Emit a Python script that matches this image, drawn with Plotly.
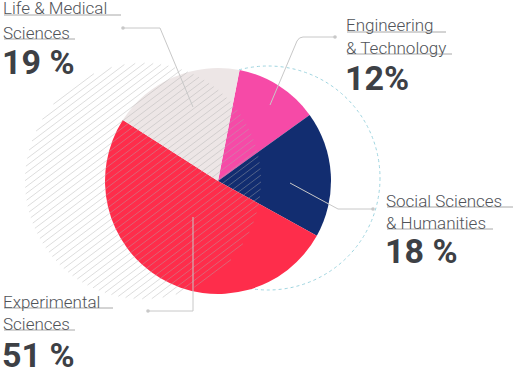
import math
import plotly.graph_objects as go

# ---- data ----
categories = ["Engineering & Technology", "Social Sciences & Humanities",
              "Experimental Sciences", "Life & Medical Sciences"]
values = [12, 18, 51, 19]
label_line1 = ["Engineering", "Social Sciences", "Experimental", "Life & Medical"]
label_line2 = ["& Technology", "& Humanities", "Sciences", "Sciences"]
pct_text = ["12%", "18 %", "51 %", "19 %"]
colors = ["#f64aa7", "#122d70", "#fe2d4b", "#ede6e6"]

W, H = 515, 377

fig = go.Figure()

# hidden pixel-space axes for decorations
fig.add_trace(go.Scatter(x=[0, W], y=[0, H], mode="markers",
                         marker=dict(opacity=0), hoverinfo="skip", showlegend=False))

# pie
cx, cy, r = 218, 181, 113
fig.add_trace(go.Pie(
    labels=categories, values=values, sort=False, direction="clockwise",
    rotation=11, marker=dict(colors=colors, line=dict(width=0)),
    textinfo="none", hoverinfo="label+percent", showlegend=False,
    domain=dict(x=[(cx - r) / W, (cx + r) / W], y=[1 - (cy + r) / H, 1 - (cy - r) / H]),
))

shapes = []

# dotted circle (behind pie)
dcx, dcy, dr = 268, 178, 112
shapes.append(dict(type="circle", xref="x", yref="y", layer="below",
                   x0=dcx - dr, x1=dcx + dr, y0=dcy - dr, y1=dcy + dr,
                   line=dict(color="#9fd5e0", width=1, dash="dot")))

# hatched circle (above pie)
hcx, hcy, hr = 143, 181, 118
ang = math.radians(37)
dx, dy = math.cos(ang), -math.sin(ang)
nx, ny = math.sin(ang), math.cos(ang)
spacing = 5.5
segs = []
t = -hr + spacing / 2
while t < hr:
    half = math.sqrt(max(hr * hr - t * t, 0))
    px, py = hcx + t * nx, hcy + t * ny
    segs.append(f"M{px - half * dx:.1f},{py - half * dy:.1f}L{px + half * dx:.1f},{py + half * dy:.1f}")
    t += spacing
shapes.append(dict(type="path", xref="x", yref="y", layer="above", path="".join(segs),
                   line=dict(color="rgba(175,175,175,0.42)", width=1)))

# leader lines
lead_col = "#c8c8c8"
leaders = [
    "M270,105L297,41Q299,37 303,37L335,37",      # Engineering
    "M290,183L338,209L373,209",                  # Social
    "M193,217L193,311L148,311",                  # Experimental
    "M193,107L160,28L123,28",                    # Life
]
for p in leaders:
    shapes.append(dict(type="path", xref="x", yref="y", layer="above", path=p,
                       line=dict(color=lead_col, width=1)))
for (ex, ey) in [(335, 37), (373, 209), (148, 311), (123, 28)]:
    shapes.append(dict(type="circle", xref="x", yref="y", layer="above",
                       x0=ex - 1.8, x1=ex + 1.8, y0=ey - 1.8, y1=ey + 1.8,
                       fillcolor="#c8c8c8", line=dict(width=0)))

# labels: (x, underline1 y, underline1 end, underline2 y, underline2 end, pct baseline)
label_pos = [
    (347, 32, 446, 54, 452, 90),
    (387, 207, 513, 229, 493, 263),
    (4, 308, 113, 330, 75, 367),
    (4, 15, 121, 39, 75, 74),
]
annotations = []
txt_font = dict(family="Roboto Light, Roboto", size=17, color="#505358", weight=300)
num_font = dict(family="Roboto", size=34, color="#3d4045", weight=700)
for i in range(len(categories)):
    x, u1, e1, u2, e2, base = label_pos[i]
    for txt, uy, ue in [(label_line1[i], u1, e1), (label_line2[i], u2, e2)]:
        annotations.append(dict(x=x - 2, y=uy + 4.5, xref="x", yref="y", text=txt,
                                showarrow=False, xanchor="left", yanchor="bottom",
                                font=txt_font, borderpad=0))
        shapes.append(dict(type="line", xref="x", yref="y", layer="above",
                           x0=x, x1=ue, y0=uy, y1=uy,
                           line=dict(color="#a8a8a8", width=1)))
    annotations.append(dict(x=x - 3, y=base + 9, xref="x", yref="y", text=pct_text[i],
                            showarrow=False, xanchor="left", yanchor="bottom",
                            font=num_font, borderpad=0))

fig.update_layout(
    width=W, height=H, margin=dict(l=0, r=0, t=0, b=0),
    paper_bgcolor="white", plot_bgcolor="white",
    xaxis=dict(range=[0, W], visible=False, fixedrange=True),
    yaxis=dict(range=[H, 0], visible=False, fixedrange=True),
    shapes=shapes, annotations=annotations, showlegend=False,
)

fig.write_html("out.html", config={"displayModeBar": False},
               post_script="document.body.style.margin='0';document.body.style.overflow='hidden';")
